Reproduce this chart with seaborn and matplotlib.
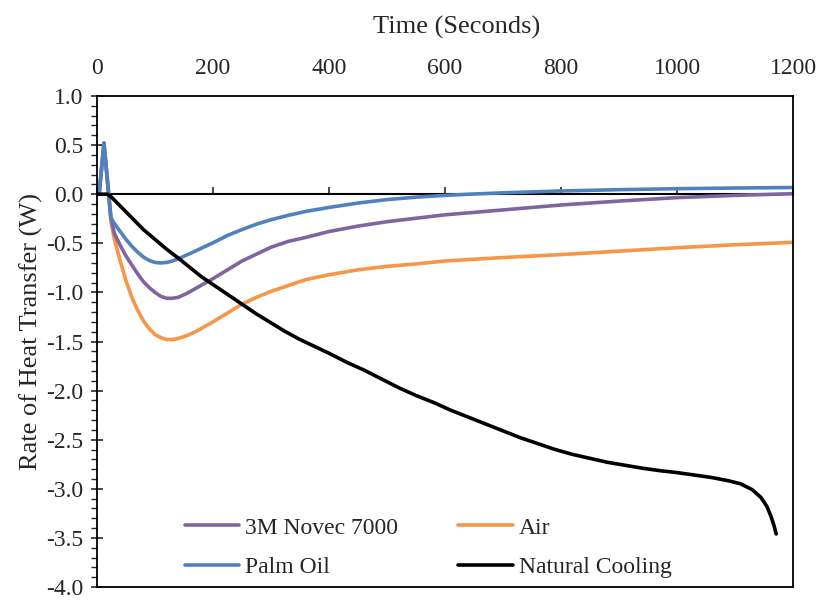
import numpy as np
import pandas as pd
import seaborn as sns
import matplotlib.pyplot as plt
from matplotlib.ticker import MultipleLocator

# tiempos (s) y potencias (W)
t_novec = [0, 4, 12, 24, 30, 40, 50, 60, 70, 80, 90, 100, 110, 120, 130, 140, 155,
           170, 185, 200, 225, 250, 275, 300, 330, 360, 400, 450, 500, 550, 600,
           700, 800, 900, 1000, 1100, 1200]
novec = [0, 0.02, 0.52, -0.24, -0.40, -0.52, -0.63, -0.72, -0.81, -0.89, -0.95,
         -1.00, -1.04, -1.06, -1.06, -1.05, -1.01, -0.96, -0.91, -0.86, -0.77,
         -0.68, -0.61, -0.54, -0.48, -0.44, -0.38, -0.325, -0.28, -0.245, -0.21,
         -0.16, -0.11, -0.07, -0.035, -0.012, 0.005]

t_palm = [0, 4, 12, 24, 30, 40, 50, 60, 70, 80, 90, 100, 110, 120, 130, 145, 160,
          180, 200, 225, 250, 275, 300, 330, 360, 400, 450, 500, 550, 600, 650,
          700, 800, 900, 1000, 1100, 1200]
palm_oil = [0, 0.02, 0.52, -0.24, -0.30, -0.38, -0.46, -0.53, -0.59, -0.64, -0.675,
            -0.695, -0.70, -0.695, -0.68, -0.645, -0.605, -0.55, -0.495, -0.42,
            -0.36, -0.305, -0.26, -0.215, -0.175, -0.135, -0.09, -0.055, -0.03,
            -0.012, 0.002, 0.014, 0.033, 0.046, 0.056, 0.063, 0.068]

t_air = [0, 4, 12, 24, 30, 40, 50, 60, 70, 80, 90, 100, 110, 120, 130, 140, 155,
         170, 185, 200, 225, 250, 275, 300, 330, 360, 400, 450, 500, 550, 600,
         700, 800, 900, 1000, 1100, 1200]
air = [0, 0.02, 0.52, -0.28, -0.46, -0.68, -0.88, -1.05, -1.18, -1.29, -1.37,
       -1.43, -1.46, -1.48, -1.48, -1.47, -1.44, -1.40, -1.35, -1.30, -1.21,
       -1.12, -1.05, -0.99, -0.93, -0.87, -0.82, -0.77, -0.735, -0.71, -0.68,
       -0.645, -0.615, -0.58, -0.545, -0.515, -0.49]

t_natural = [0, 18, 25, 40, 60, 80, 100, 120, 140, 160, 180, 200, 225, 250, 275,
             300, 325, 350, 375, 400, 430, 460, 490, 520, 550, 580, 610, 640, 670,
             700, 730, 760, 790, 820, 850, 880, 910, 940, 970, 1000, 1030, 1060,
             1090, 1110, 1130, 1145, 1155, 1162, 1167, 1171]
natural = [0, 0, -0.03, -0.12, -0.24, -0.36, -0.46, -0.56, -0.65, -0.745, -0.84,
           -0.92, -1.02, -1.12, -1.22, -1.31, -1.40, -1.48, -1.55, -1.62, -1.71,
           -1.79, -1.88, -1.97, -2.05, -2.12, -2.20, -2.27, -2.34, -2.41, -2.48,
           -2.54, -2.60, -2.65, -2.69, -2.73, -2.76, -2.79, -2.815, -2.835, -2.86,
           -2.885, -2.92, -2.95, -3.01, -3.09, -3.18, -3.28, -3.37, -3.46]

colores = {'3M Novec 7000': '#8064A2', 'Palm Oil': '#4F81BD',
           'Air': '#F79646', 'Natural Cooling': 'black'}
orden_dibujo = ['Air', '3M Novec 7000', 'Palm Oil', 'Natural Cooling']
orden_leyenda = ['3M Novec 7000', 'Palm Oil', 'Air', 'Natural Cooling']

df = pd.concat([
    pd.DataFrame({'t': t_novec, 'q': novec, 'serie': '3M Novec 7000'}),
    pd.DataFrame({'t': t_palm, 'q': palm_oil, 'serie': 'Palm Oil'}),
    pd.DataFrame({'t': t_air, 'q': air, 'serie': 'Air'}),
    pd.DataFrame({'t': t_natural, 'q': natural, 'serie': 'Natural Cooling'}),
], ignore_index=True)

sns.set_style('white')
plt.rcParams['font.family'] = ['Liberation Serif', 'DejaVu Serif']

fig = plt.figure(figsize=(8.17, 6.02), dpi=100)
ax = fig.add_axes([97 / 817, 15 / 602, 696 / 817, 491 / 602])

sns.lineplot(data=df, x='t', y='q', hue='serie', hue_order=orden_dibujo,
             palette=colores, estimator=None, sort=True, linewidth=2.6,
             solid_joinstyle='round', solid_capstyle='round', ax=ax)

ax.set_xlim(0, 1200)
ax.set_ylim(-4, 1)
ax.xaxis.tick_top()
ax.xaxis.set_label_position('top')
ax.set_xticks(np.arange(0, 1201, 200))
ax.yaxis.set_major_locator(MultipleLocator(0.5))
ax.yaxis.set_minor_locator(MultipleLocator(0.1))
ax.yaxis.set_major_formatter(lambda v, p: f'{v:.1f}')
ax.tick_params(axis='x', length=0, pad=12, labelsize=17)
ax.tick_params(axis='y', which='major', direction='inout', length=8, width=1.2,
               pad=6, labelsize=17, left=True)
ax.tick_params(axis='y', which='minor', direction='out', length=4, width=1.0, left=True)
ax.set_xlabel('Time (Seconds)', fontsize=19)
ax.set_ylabel('Rate of Heat Transfer (W)', fontsize=19)
ax.xaxis.set_label_coords(0.516, 1.127)
ax.yaxis.set_label_coords(-0.078, 0.521)
for s in ax.spines.values():
    s.set_color('black')
    s.set_linewidth(1.3)

# eje horizontal en y = 0
eje0 = ax.secondary_xaxis(0, transform=ax.transData)
eje0.set_xticks(np.arange(0, 1201, 200))
eje0.tick_params(direction='in', length=5, width=1.2, labelbottom=False, labeltop=False)
for s in eje0.spines.values():
    s.set_linewidth(1.5)
    s.set_color('black')

h, l = ax.get_legend_handles_labels()
mapa = dict(zip(l, h))
hs = [mapa[n] for n in orden_leyenda]
for hh in hs:
    hh.set_linewidth(2.6)
ax.legend(hs, orden_leyenda, ncol=2, loc='upper left', bbox_to_anchor=(0.1264, 0.1426),
          frameon=False, fontsize=17, handlelength=2.3, handletextpad=0.25,
          columnspacing=2.55, labelspacing=0.76, borderpad=0, borderaxespad=0)

fig.savefig('out.png', dpi=100)
